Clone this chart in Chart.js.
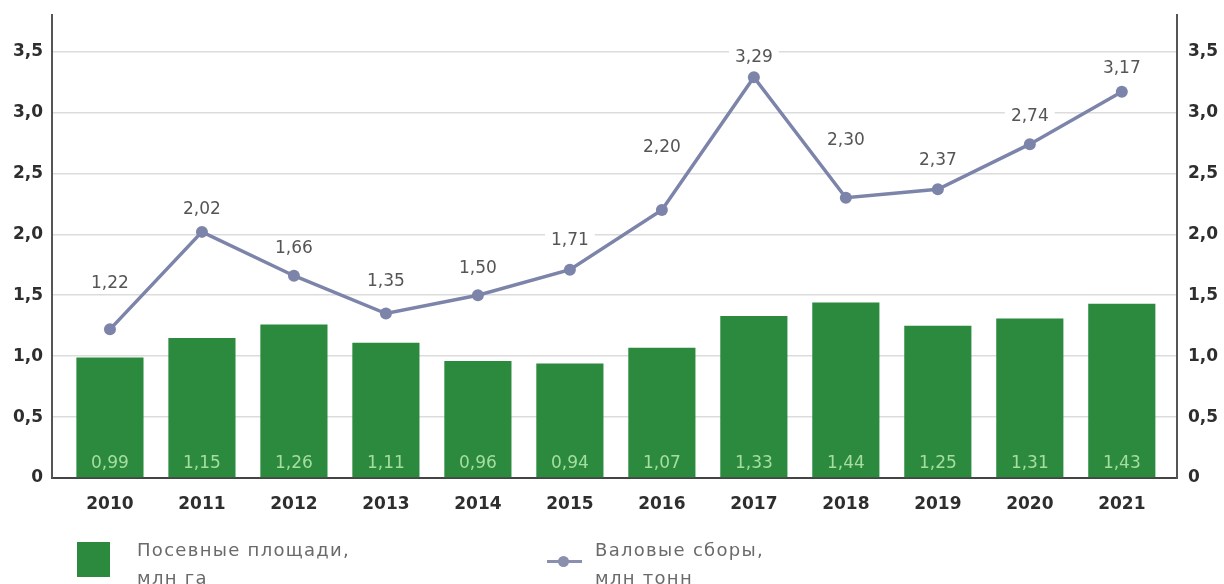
<!DOCTYPE html>
<html>
<head>
<meta charset="utf-8">
<script src="https://cdn.jsdelivr.net/npm/chart.js@4/dist/chart.umd.min.js"></script>
<style>
  html, body { margin: 0; padding: 0; background: #fff; }
  #wrap { position: relative; width: 1224px; height: 584px; overflow: hidden; }
  #c { position: absolute; left: 0; top: 0; }
  .lg-text { position: absolute; font-family: "DejaVu Sans", sans-serif; font-size: 18px; letter-spacing: 1.3px; color: #6a6a6a; line-height: 28px; white-space: nowrap; }
</style>
</head>
<body>
<div id="wrap">
  <canvas id="c" width="1224" height="584"></canvas>
  <div id="lgBarBox" style="position:absolute;left:77px;top:542px;width:33px;height:35px;background:#2b8a3e;"></div>
  <div class="lg-text" id="lgBarText" style="left:137px;top:536px;"></div>
  <div style="position:absolute;left:547px;top:560px;width:35px;height:3px;background:#8a8fae;"></div>
  <div style="position:absolute;left:558px;top:556px;width:11px;height:11px;border-radius:50%;background:#8a8fae;"></div>
  <div class="lg-text" id="lgLineText" style="left:595px;top:536px;"></div>
</div>
<script>
// ---- data ----
const categories = ["2010","2011","2012","2013","2014","2015","2016","2017","2018","2019","2020","2021"];
const sownArea = [0.99, 1.15, 1.26, 1.11, 0.96, 0.94, 1.07, 1.33, 1.44, 1.25, 1.31, 1.43];
const grossHarvest = [1.22, 2.02, 1.66, 1.35, 1.50, 1.71, 2.20, 3.29, 2.30, 2.37, 2.74, 3.17];
const seriesNames = ["Посевные площади,\nмлн га", "Валовые сборы,\nмлн тонн"];
const yTickStep = 0.5;

// ---- styles ----
const GREEN = "#2b8a3e";
const LINE = "#7d84aa";
const lineLabelLift = [46, 22, 27, 32, 27, 29, 62, 20, 57, 29, 28, 23];

document.getElementById("lgBarText").innerHTML = seriesNames[0].replace("\n", "<br>");
document.getElementById("lgLineText").innerHTML = seriesNames[1].replace("\n", "<br>");

const fmt = v => (Math.abs(v) < 1e-9 ? "0" : v.toFixed(2).replace(".", ","));
const fmtTick = v => (Math.abs(v) < 1e-9 ? "0" : v.toFixed(1).replace(".", ","));
const keepHalf = axis => { axis.ticks = axis.ticks.filter(t => Math.abs(t.value / yTickStep - Math.round(t.value / yTickStep)) < 1e-6); };

const labelPlugin = {
  id: "valueLabels",
  afterDatasetsDraw(chart) {
    const ctx = chart.ctx;
    ctx.save();
    ctx.textAlign = "center";
    ctx.textBaseline = "middle";
    const bm = chart.getDatasetMeta(0);
    ctx.font = "17px 'DejaVu Sans', sans-serif";
    ctx.fillStyle = "#a6dea0";
    bm.data.forEach((el, i) => {
      ctx.fillText(fmt(sownArea[i]), el.x, el.base - 14);
    });
    const lm = chart.getDatasetMeta(1);
    ctx.font = "17px 'DejaVu Sans', sans-serif";
    lm.data.forEach((el, i) => {
      const t = fmt(grossHarvest[i]);
      const w = ctx.measureText(t).width;
      const y = el.y - lineLabelLift[i];
      ctx.fillStyle = "#fff";
      ctx.fillRect(el.x - w / 2 - 6, y - 10, w + 12, 20);
      ctx.fillStyle = "#555";
      ctx.fillText(t, el.x, y);
    });
    ctx.restore();
  }
};

new Chart(document.getElementById("c"), {
  type: "bar",
  data: {
    datasets: [
      {
        type: "bar",
        label: seriesNames[0],
        data: sownArea.map((v, i) => ({ x: i, y: v })),
        backgroundColor: GREEN,
        barPercentage: 0.73,
        categoryPercentage: 1,
        yAxisID: "y",
        order: 2
      },
      {
        type: "line",
        label: seriesNames[1],
        data: grossHarvest.map((v, i) => ({ x: i, y: v })),
        borderColor: LINE,
        backgroundColor: LINE,
        borderWidth: 3.5,
        pointRadius: 6,
        pointBackgroundColor: LINE,
        pointBorderWidth: 0,
        tension: 0,
        yAxisID: "y",
        order: 1
      }
    ]
  },
  options: {
    responsive: false,
    animation: false,
    devicePixelRatio: 1,
    layout: { padding: { top: 15, left: 0, right: 0, bottom: 0 } },
    plugins: { legend: { display: false }, tooltip: { enabled: false } },
    scales: {
      x: {
        type: "linear",
        offset: false,
        min: -0.63,
        max: 11.6,
        afterBuildTicks: axis => { axis.ticks = categories.map((c, i) => ({ value: i })); },
        afterFit: s => { s.height = 106; },
        ticks: {
          autoSkip: false,
          maxRotation: 0,
          padding: 16,
          color: "#2e2e2e",
          font: { family: "'DejaVu Sans', sans-serif", size: 17, weight: "bold" },
          callback: v => categories[v]
        },
        grid: { display: false, drawTicks: false },
        border: { color: "#444", width: 2 }
      },
      y: {
        position: "left",
        min: 0,
        max: 3.8,
        afterBuildTicks: keepHalf,
        afterFit: s => { s.width = 52; s.paddingTop = 0; s.paddingBottom = 0; },
        ticks: {
          stepSize: yTickStep,
          padding: 9,
          color: "#2e2e2e",
          font: { family: "'DejaVu Sans', sans-serif", size: 17, weight: "bold" },
          callback: v => fmtTick(v)
        },
        grid: { color: "#dcdcdc", lineWidth: 1.5, drawTicks: false },
        border: { color: "#555", width: 2 }
      },
      y2: {
        position: "right",
        min: 0,
        max: 3.8,
        afterBuildTicks: keepHalf,
        afterFit: s => { s.width = 47; s.paddingTop = 0; s.paddingBottom = 0; },
        ticks: {
          stepSize: yTickStep,
          padding: 11,
          color: "#2e2e2e",
          font: { family: "'DejaVu Sans', sans-serif", size: 17, weight: "bold" },
          callback: v => fmtTick(v)
        },
        grid: { display: false, drawTicks: false },
        border: { color: "#555", width: 2 }
      }
    }
  },
  plugins: [labelPlugin]
});
</script>
</body>
</html>
